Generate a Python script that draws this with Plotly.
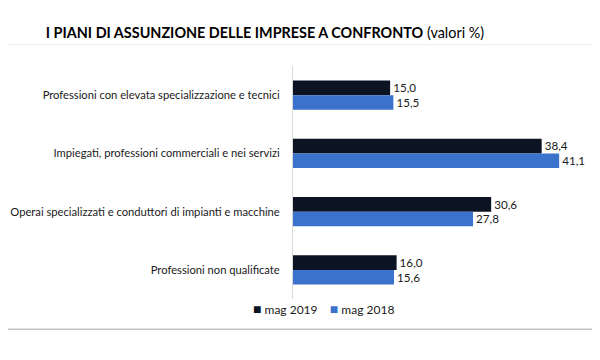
import plotly.graph_objects as go

categories = [
    "Professioni con elevata specializzazione e tecnici",
    "Impiegati, professioni commerciali e nei servizi",
    "Operai specializzati e conduttori di impianti e macchine",
    "Professioni non qualificate",
]
series_names = ["mag 2019", "mag 2018"]
mag_2019 = [15.0, 38.4, 30.6, 16.0]
mag_2018 = [15.5, 41.1, 27.8, 15.6]

FONT = "Lato"
C19 = "#0c1322"
C18 = "#3b72cb"
OFF = 8  # browser default body margin

fig = go.Figure()
for name, vals, col in [(series_names[0], mag_2019, C19), (series_names[1], mag_2018, C18)]:
    fig.add_trace(go.Bar(
        y=categories, x=vals, orientation="h", name=name,
        marker=dict(color=col, line=dict(width=0)),
        texttemplate="%{x:.1f}", textposition="outside",
        textfont=dict(size=12, color="#1a1a1a", family=FONT), cliponaxis=False,
        showlegend=False,
    ))

W, H = 600, 360
TOP, BOT = 65.5, 299.5          # plot area in screenshot pixels
PH = BOT - TOP
fig.update_layout(
    width=W, height=H,
    separators=",.",
    barmode="group", bargap=0.5, bargroupgap=0,
    paper_bgcolor="white", plot_bgcolor="white",
    font=dict(family=FONT, size=12, color="#1a1a1a"),
    margin=dict(l=293 - OFF, r=21, t=TOP - OFF, b=H - (BOT - OFF), autoexpand=False),
    title=dict(
        text="<b>I PIANI DI ASSUNZIONE DELLE IMPRESE A CONFRONTO</b> (valori %)",
        x=(265 - OFF) / W, xanchor="center", xref="container",
        y=1 - (33 - OFF) / H, yanchor="middle", yref="container",
        font=dict(family=FONT, size=14.4, color="#000000"),
    ),
    showlegend=False,
    xaxis=dict(range=[0, 45.4], visible=False, showgrid=False, zeroline=False),
    yaxis=dict(
        autorange="reversed", showline=True, linecolor="#d9d9d9", linewidth=1,
        ticks="", showgrid=False, ticklabelstandoff=10, automargin=False,
        tickfont=dict(size=11.2, family=FONT, color="#1a1a1a"),
    ),
)

# Legend built as text with coloured squares
legend_text = (
    f"<span style='color:{C19};font-size:14px'>■</span> {series_names[0]}"
    f"&nbsp;&nbsp;&nbsp;&nbsp;<span style='color:{C18};font-size:14px'>■</span> {series_names[1]}"
)
fig.add_annotation(
    text=legend_text, showarrow=False,
    xref="x domain", yref="y domain",
    x=(323 - 293) / 294, xanchor="center",
    y=-(309 - BOT) / PH, yanchor="middle",
    font=dict(size=12, family=FONT, color="#1a1a1a"),
)

# faint frame lines of the original image
fig.add_shape(type="line", xref="paper", yref="paper", x0=-1.2, x1=2,
              y0=-(330 - BOT) / PH, y1=-(330 - BOT) / PH,
              line=dict(color="#c4c4c4", width=1.5), layer="below")
fig.add_shape(type="line", xref="paper", yref="paper", x0=-1.2, x1=2,
              y0=1 + (TOP - 44) / PH, y1=1 + (TOP - 44) / PH,
              line=dict(color="#ececec", width=1), layer="below")

fig.write_html("out.html")
